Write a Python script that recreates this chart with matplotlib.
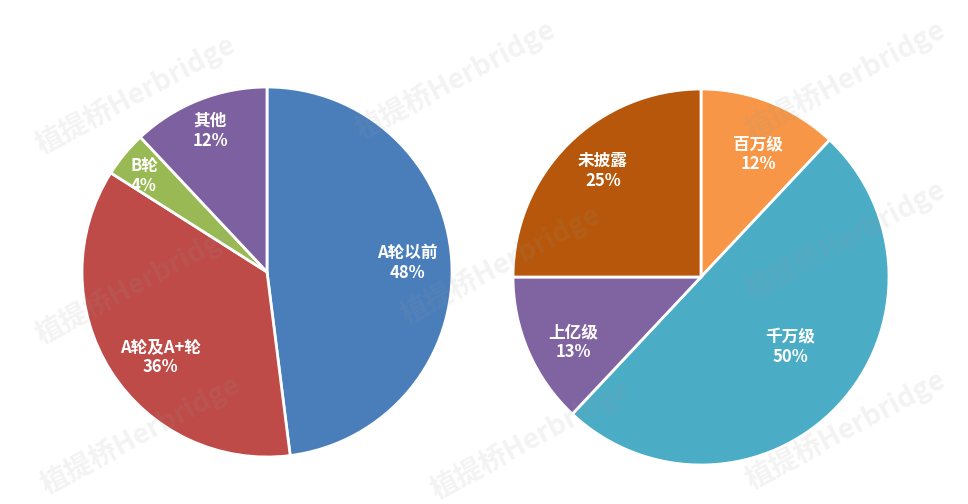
import matplotlib
matplotlib.use('Agg')
import matplotlib.pyplot as plt

plt.rcParams['font.family'] = ['Noto Sans CJK SC', 'DejaVu Sans']

# 左图：融资轮次
rounds = ['A轮以前', 'A轮及A+轮', 'B轮', '其他']
rounds_pct = [48, 36, 4, 12]
rounds_colors = ['#4a7ebb', '#be4b48', '#98b954', '#7d60a0']

# 右图：融资金额
amounts = ['百万级', '千万级', '上亿级', '未披露']
amounts_pct = [12, 50, 13, 25]
amounts_colors = ['#f79646', '#4bacc6', '#8064a2', '#b6570b']

W, H = 968, 504
fig = plt.figure(figsize=(W / 100, H / 100), dpi=100)


def pie_axes(cx, cy, r):
    # cx, cy, r 以像素计（y 从上往下）
    return fig.add_axes([(cx - r) / W, (H - cy - r) / H, 2 * r / W, 2 * r / H])


def draw_pie(ax, names, pct, colors, label_xy):
    ax.pie(pct, colors=colors, startangle=90, counterclock=False,
           wedgeprops=dict(edgecolor='white', linewidth=2))
    for name, p, (x, y) in zip(names, pct, label_xy):
        ax.text(x, y, f'{name}\n{p}%', ha='center', va='center',
                color='white', fontsize=12, fontweight='bold', linespacing=1.15)
    ax.set_xlim(-1, 1)
    ax.set_ylim(-1, 1)
    ax.set_aspect('equal')
    ax.axis('off')


ax1 = pie_axes(267, 272, 185)
draw_pie(ax1, rounds, rounds_pct, rounds_colors,
         [(0.757, 0.049), (-0.578, -0.459), (-0.665, 0.519), (-0.308, 0.762)])

ax2 = pie_axes(701, 277, 188)
draw_pie(ax2, amounts, amounts_pct, amounts_colors,
         [(0.303, 0.654), (0.473, -0.372), (-0.681, -0.346), (-0.521, 0.564)])

# 水印
marks = [(135, 95), (455, 80), (845, 80),
         (135, 285), (500, 265), (845, 240),
         (140, 435), (530, 440), (845, 430)]
for x, y in marks:
    fig.text(x / W, 1 - y / H, '植提桥Herbridge', rotation=28, ha='center',
             va='center', fontsize=20, fontweight='bold', color='#999999',
             alpha=0.12, zorder=10)

fig.savefig('out.png', dpi=100, facecolor='white')
